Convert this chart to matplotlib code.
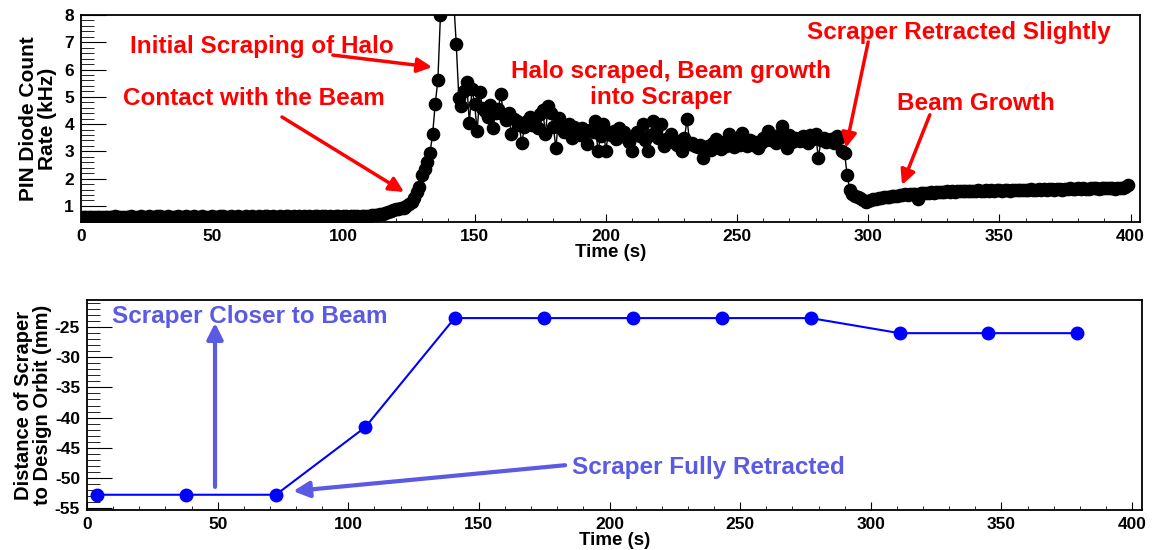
import numpy as np
import matplotlib
matplotlib.use("Agg")
import matplotlib.pyplot as plt

plt.rcParams["font.family"] = ["Liberation Sans", "DejaVu Sans"]
plt.rcParams["font.weight"] = "bold"
plt.rcParams["axes.unicode_minus"] = False

# PIN diode rate (kHz), one sample per second from t = 0 s
pin_rate = [
    0.60, 0.59, 0.61, 0.60, 0.58, 0.60, 0.61, 0.59, 0.60, 0.60,
    0.59, 0.61, 0.60, 0.62, 0.60, 0.59, 0.61, 0.60, 0.61, 0.62,
    0.60, 0.61, 0.59, 0.62, 0.61, 0.60, 0.62, 0.61, 0.60, 0.62,
    0.63, 0.61, 0.60, 0.62, 0.61, 0.59, 0.61, 0.62, 0.60, 0.61,
    0.62, 0.60, 0.61, 0.63, 0.61, 0.60, 0.62, 0.61, 0.59, 0.61,
    0.62, 0.60, 0.61, 0.63, 0.62, 0.60, 0.61, 0.62, 0.60, 0.61,
    0.62, 0.61, 0.60, 0.62, 0.61, 0.63, 0.61, 0.60, 0.62, 0.61,
    0.64, 0.62, 0.61, 0.63, 0.61, 0.60, 0.62, 0.61, 0.63, 0.62,
    0.60, 0.62, 0.61, 0.63, 0.61, 0.62, 0.60, 0.62, 0.61, 0.63,
    0.62, 0.61, 0.63, 0.62, 0.60, 0.62, 0.61, 0.63, 0.62, 0.61,
    0.62, 0.63, 0.61, 0.62, 0.64, 0.62, 0.61, 0.63, 0.62, 0.63,
    0.64, 0.65, 0.66, 0.68, 0.70, 0.72, 0.75, 0.78, 0.81, 0.84,
    0.87, 0.89, 0.91, 0.94, 0.99, 1.06, 1.16, 1.30, 1.50, 1.70,
    2.14, 2.37, 2.60, 2.93, 3.63, 4.74, 5.60, 8.00, 10.5, 12.5,
    12.0, 10.0, 8.60, 6.95, 4.96, 4.67, 5.20, 5.53, 4.05, 5.30,
    4.74, 3.74, 5.16, 4.60, 4.48, 4.25, 4.70, 3.85, 4.40, 4.55,
    5.10, 4.37, 4.15, 4.40, 3.63, 4.20, 4.10, 3.95, 3.30, 3.90,
    4.10, 4.25, 3.95, 4.20, 3.86, 4.37, 4.50, 3.63, 4.67, 4.40,
    3.90, 3.12, 4.23, 3.85, 3.70, 3.95, 4.00, 3.48, 3.90, 3.75,
    3.60, 3.85, 3.70, 3.26, 3.80, 3.70, 4.10, 3.00, 3.55, 4.00,
    3.00, 3.70, 3.60, 3.75, 3.45, 3.85, 3.55, 3.70, 3.50, 3.35,
    3.00, 3.60, 3.70, 3.55, 4.00, 3.40, 3.00, 3.60, 4.10, 3.75,
    3.50, 4.00, 3.19, 3.45, 3.35, 3.63, 3.40, 3.25, 3.30, 3.00,
    3.50, 4.18, 3.26, 3.30, 3.20, 3.15, 3.25, 2.75, 3.10, 3.20,
    3.05, 3.30, 3.44, 3.25, 3.10, 3.35, 3.20, 3.63, 3.30, 3.15,
    3.40, 3.25, 3.68, 3.30, 3.20, 3.40, 3.25, 3.35, 3.12, 3.30,
    3.50, 3.40, 3.74, 3.40, 3.55, 3.30, 3.60, 3.93, 3.45, 3.12,
    3.60, 3.35, 3.50, 3.40, 3.37, 3.55, 3.40, 3.30, 3.60, 3.45,
    3.63, 2.75, 3.40, 3.50, 3.35, 3.37, 3.45, 3.30, 3.55, 3.50,
    3.00, 2.93, 2.14, 1.58, 1.45, 1.38, 1.33, 1.28, 1.22, 1.15,
    1.18, 1.20, 1.24, 1.26, 1.28, 1.30, 1.32, 1.31, 1.34, 1.36,
    1.35, 1.38, 1.40, 1.39, 1.42, 1.41, 1.44, 1.43, 1.45, 1.27,
    1.46, 1.48, 1.47, 1.49, 1.50, 1.48, 1.51, 1.50, 1.52, 1.50,
    1.53, 1.51, 1.54, 1.52, 1.55, 1.53, 1.54, 1.56, 1.53, 1.55,
    1.56, 1.54, 1.57, 1.55, 1.53, 1.57, 1.56, 1.58, 1.55, 1.57,
    1.58, 1.56, 1.59, 1.57, 1.55, 1.58, 1.60, 1.57, 1.59, 1.58,
    1.60, 1.58, 1.61, 1.59, 1.57, 1.61, 1.60, 1.62, 1.59, 1.61,
    1.62, 1.60, 1.63, 1.61, 1.59, 1.63, 1.62, 1.64, 1.61, 1.63,
    1.64, 1.62, 1.65, 1.63, 1.61, 1.65, 1.64, 1.66, 1.63, 1.65,
    1.66, 1.64, 1.67, 1.65, 1.63, 1.67, 1.66, 1.65, 1.70, 1.76,
]
pin_time = np.arange(len(pin_rate))

# scraper position
scraper_time = [4, 38, 72.3, 106.5, 140.7, 174.8, 208.9, 243, 277, 311, 345, 379]
scraper_pos = [-52.8, -52.8, -52.8, -41.6, -23.5, -23.5, -23.5, -23.5, -23.5,
               -26.0, -26.0, -26.0]

RED = "#ff0000"
SLATE = "#5a5ae4"

fig = plt.figure(figsize=(11.54, 5.5), dpi=100)
W, H = 1154, 550


def box(x0, y0, x1, y1):
    return [x0 / W, 1 - y1 / H, (x1 - x0) / W, (y1 - y0) / H]


def style_axes(ax, ylen, xlen):
    ax.tick_params(which="both", direction="in", top=False, right=False,
                   labelsize=12.5, pad=5)
    ax.tick_params(axis="y", which="major", length=ylen)
    ax.tick_params(axis="y", which="minor", length=ylen / 2)
    ax.tick_params(axis="x", which="major", length=xlen)
    ax.tick_params(axis="x", which="minor", length=xlen / 2)
    for lab in ax.get_xticklabels() + ax.get_yticklabels():
        lab.set_fontweight("bold")
    for s in ax.spines.values():
        s.set_linewidth(1.3)


# top panel
ax1 = fig.add_axes(box(81, 15, 1140, 222))
ax1.plot(pin_time, pin_rate, "-o", color="black", lw=1, ms=8.8)
ax1.set_xlim(0, 403.6)
ax1.set_ylim(0.41, 8)
ax1.set_xticks(range(0, 401, 50))
ax1.set_xticks(range(0, 401, 10), minor=True)
ax1.set_yticks(range(1, 9))
ax1.set_yticks(np.arange(0.6, 8.01, 0.2), minor=True)
style_axes(ax1, 18, 6)
ax1.set_xlabel("Time (s)", fontsize=13.5, fontweight="bold", labelpad=0)
ax1.set_ylabel("PIN Diode Count\nRate (kHz)", fontsize=15, fontweight="bold",
               labelpad=5, linespacing=1.0)

arrow_red = dict(arrowstyle="-|>", color=RED, lw=2.5, mutation_scale=22,
                 shrinkA=0, shrinkB=0)
txt = dict(color=RED, fontsize=17.5, fontweight="bold", va="center")
ax1.text(18.7, 6.85, "Initial Scraping of Halo", ha="left", **txt)
ax1.annotate("", xy=(133.8, 6.09), xytext=(96, 6.53), arrowprops=arrow_red)
ax1.text(16, 4.95, "Contact with the Beam", ha="left", **txt)
ax1.annotate("", xy=(123.1, 1.51), xytext=(76.6, 4.26), arrowprops=arrow_red)
ax1.text(224.8, 5.93, "Halo scraped, Beam growth", ha="center", **txt)
ax1.text(221, 4.98, "into Scraper", ha="center", **txt)
ax1.text(276.7, 7.36, "Scraper Retracted Slightly", ha="left", **txt)
ax1.annotate("", xy=(291.5, 3.13), xytext=(300, 7.01), arrowprops=arrow_red)
ax1.text(311, 4.76, "Beam Growth", ha="left", **txt)
ax1.annotate("", xy=(312.9, 1.77), xytext=(323.5, 4.34), arrowprops=arrow_red)

# bottom panel
ax2 = fig.add_axes(box(87, 300, 1142, 510))
ax2.plot(scraper_time, scraper_pos, "-o", color="#0000ff", lw=1.5, ms=9)
ax2.set_xlim(0, 403.8)
ax2.set_ylim(-55.33, -20.5)
ax2.set_xticks(range(0, 401, 50))
ax2.set_xticks(range(0, 401, 10), minor=True)
ax2.set_yticks(range(-55, -24, 5))
ax2.set_yticks(range(-55, -20), minor=True)
style_axes(ax2, 18, 6)
ax2.set_xlabel("Time (s)", fontsize=13.5, fontweight="bold", labelpad=0)
ax2.set_ylabel("Distance of Scraper\nto Design Orbit (mm)", fontsize=14.5,
               fontweight="bold", labelpad=2, linespacing=1.0)

arrow_blue = dict(arrowstyle="-|>", color=SLATE, lw=3, mutation_scale=24,
                  shrinkA=0, shrinkB=0)
txtb = dict(color=SLATE, fontsize=17.5, fontweight="bold", va="center")
ax2.text(9.6, -23.3, "Scraper Closer to Beam", ha="left", **txtb)
ax2.annotate("", xy=(49, -24.3), xytext=(49, -51.5), arrowprops=arrow_blue)
ax2.text(185.6, -48.2, "Scraper Fully Retracted", ha="left", **txtb)
ax2.annotate("", xy=(78.9, -52.2), xytext=(183, -47.9), arrowprops=arrow_blue)

fig.savefig("out.png", dpi=100)
